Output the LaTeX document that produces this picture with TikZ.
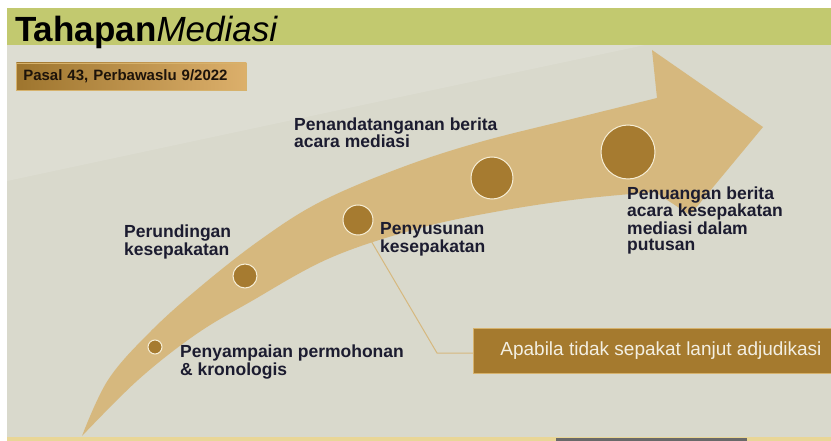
\documentclass[tikz,border=0pt]{standalone}
\usepackage{fontspec}
\setmainfont{Liberation Sans}
\usepackage{tikz}
\usetikzlibrary{positioning}
\definecolor{bandgreen}{RGB}{194,201,111}
\definecolor{slidebg}{RGB}{217,217,204}
\definecolor{arrowtan}{RGB}{214,184,126}
\definecolor{dotbrown}{RGB}{166,123,48}
\definecolor{dotring}{RGB}{246,238,214}
\definecolor{inknavy}{RGB}{28,28,48}
\definecolor{boxbrown}{RGB}{165,122,46}
\definecolor{boxedge}{RGB}{214,178,108}
\definecolor{boxink}{RGB}{243,239,226}
\definecolor{stripyellow}{RGB}{233,214,150}
\definecolor{stripgray}{RGB}{105,105,105}

\begin{document}
\begin{tikzpicture}[x=1pt, y=-1pt,
    dot/.style={circle, fill=dotbrown, draw=dotring, line width=1pt, inner sep=0pt},
    steptext/.style={font=\bfseries\fontsize{17.5pt}{15pt}\selectfont, text=inknavy, align=left, inner sep=0pt, anchor=north west},
    link/.style={draw=arrowtan, line width=1pt}]
    \useasboundingbox (0,0) rectangle (831,441);
    % slide background
    \fill[white] (0,0) rectangle (831,441);
    \fill[slidebg] (7,45) rectangle (831,437);
    \fill[white, opacity=0.12] (7,45) -- (645,45) -- (400,97) -- (7,181) -- cycle;
    \fill[stripyellow] (7,437) rectangle (831,441);
    \fill[stripgray] (556,438) rectangle (747,441);
    \fill[bandgreen] (7,8) rectangle (831,45);
    \node[anchor=base west, inner sep=0pt, font=\fontsize{35pt}{35pt}\selectfont] (title) at (15,42) {\textbf{Tahapan}\textit{Mediasi}};
    \node[anchor=west, left color=dotbrown!95!black, right color=arrowtan!85!orange, draw=boxedge, line width=0.6pt,
      minimum height=27pt, text width=216pt, inner xsep=7pt, align=left, text=black!85!brown,
      font=\bfseries\fontsize{15pt}{15pt}\selectfont] (pasal) at (16,76.5) {Pasal 43, Perbawaslu 9/2022};
    % curved arrow
    \fill[arrowtan] plot[smooth, tension=0.6] coordinates {(82,436) (108,380) (150,332) (200,287) (260,240) (320,202) (400,168) (480,142) (580,117) (657,98)}
      -- (652,50) -- (763,127) -- (690,215) -- (655,192)
      -- plot[smooth, tension=0.6] coordinates {(655,192) (580,199) (500,211) (420,228) (330,258) (250,302) (195,335) (138,380) (82,436)} -- cycle;
    \node[dot, minimum size=14pt] (d1) at (155,347) {};
    \node[dot, minimum size=24pt] (d2) at (245,276) {};
    \node[dot, minimum size=30pt] (d3) at (358,220) {};
    \node[dot, minimum size=42pt] (d4) at (492,178) {};
    \node[dot, minimum size=54pt] (d5) at (628,152) {};
    \node[steptext, font=\bfseries\fontsize{17.5pt}{14.6pt}\selectfont] (s1) at (180,345) {Penyampaian permohonan\\\& kronologis};
    \node[steptext] (s2) at (124,225) {Perundingan\\kesepakatan};
    \node[steptext] (s3) at (380,222.5) {Penyusunan\\kesepakatan};
    \node[steptext, font=\bfseries\fontsize{17.5pt}{12.6pt}\selectfont] (s4) at (294,117.3) {Penandatanganan berita\\acara mediasi};
    \node[steptext, font=\bfseries\fontsize{17.5pt}{15.8pt}\selectfont] (s5) at (627,186.7) {Penuangan berita\\acara kesepakatan\\mediasi dalam\\putusan};
    % branch to adjudication
    \node[anchor=west, fill=boxbrown, draw=boxedge, line width=0.8pt, minimum height=45pt, inner xsep=27pt,
      text=boxink, font=\fontsize{19pt}{19pt}\selectfont] (adj) at (473,350.5) {Apabila tidak sepakat lanjut adjudikasi};
    \coordinate (bend) at (437,353);
    \draw[link] (d3.-57) -- (bend) -- (bend -| adj.west);
\end{tikzpicture}
\end{document}
